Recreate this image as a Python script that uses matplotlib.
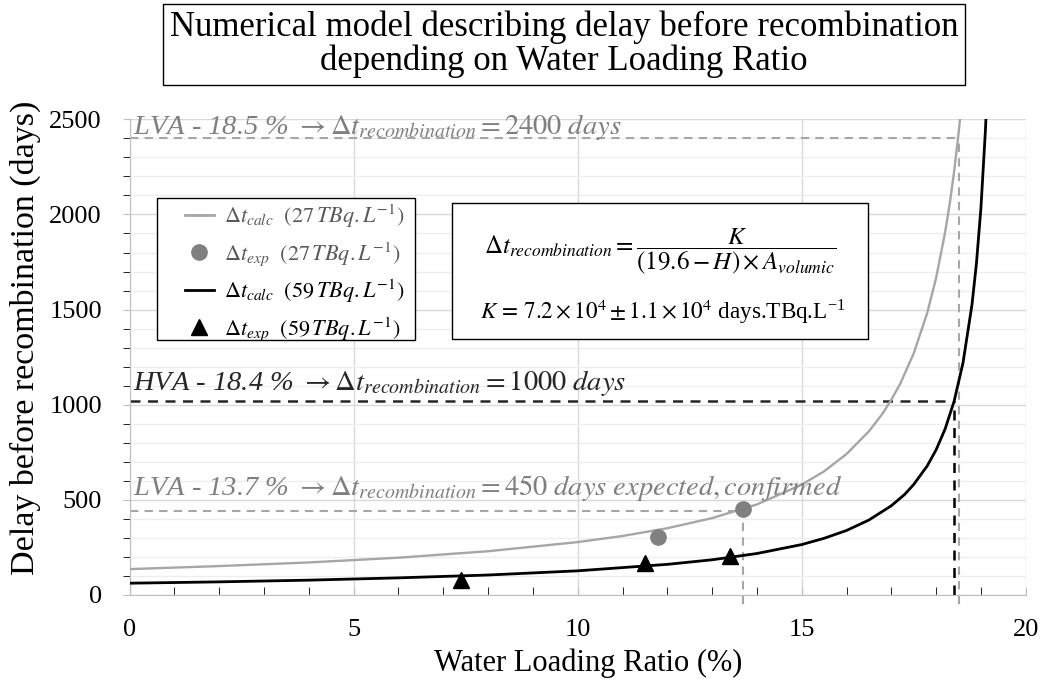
import matplotlib
matplotlib.use("Agg")
import matplotlib.pyplot as plt
from matplotlib.lines import Line2D
from matplotlib.patches import Rectangle
from matplotlib.ticker import MultipleLocator

plt.rcParams['font.family'] = ['Liberation Serif', 'DejaVu Serif']
plt.rcParams['mathtext.fontset'] = 'stix'

# ---- data ----
h_calc_27 = [0, 2, 4, 6, 8, 10, 11, 12, 13, 14, 15, 15.5, 16, 16.5, 16.8, 17,
             17.2, 17.5, 17.8, 18.0, 18.2, 18.3, 18.4, 18.5, 18.55]
t_calc_27 = [136, 152, 171, 196, 230, 278, 310, 351, 404, 476, 580, 650, 741, 860,
             952, 1026, 1111, 1270, 1481, 1667, 1905, 2051, 2222, 2424, 2540]

h_calc_59 = [0, 2, 4, 6, 8, 10, 12, 13, 14, 15, 15.5, 16, 16.5, 17, 17.3, 17.5,
             17.8, 18, 18.2, 18.4, 18.6, 18.8, 18.9, 19.0, 19.1, 19.13]
t_calc_59 = [62, 69, 78, 90, 105, 127, 161, 185, 218, 265, 298, 339, 394, 469,
             529, 581, 678, 763, 872, 1017, 1220, 1525, 1743, 2034, 2441, 2596]

h_exp_27 = [11.8, 13.7]
t_exp_27 = [303, 452]

h_exp_59 = [7.4, 11.5, 13.4]
t_exp_59 = [79, 170, 206]

ref_lva_high = (18.5, 2400)
ref_hva = (18.4, 1020)
ref_lva_low = (13.7, 443)

x_ticks = [0, 5, 10, 15, 20]
y_ticks = [0, 500, 1000, 1500, 2000, 2500]

GREY = '#a6a6a6'
GREY_TXT = '#7f7f7f'
DARK = '#262626'
DASH = (0, (4, 3))

fig = plt.figure(figsize=(10.44, 6.81), dpi=100)
ax = fig.add_axes([0.1242, 0.1263, 0.8583, 0.6985])

ax.set_xlim(0, 20)
ax.set_ylim(0, 2500)
ax.set_xticks(x_ticks)
ax.set_yticks(y_ticks)
ax.xaxis.set_minor_locator(MultipleLocator(1))
ax.yaxis.set_minor_locator(MultipleLocator(100))
ax.grid(which='major', color='#d9d9d9', lw=1.0, zorder=0)
ax.grid(which='minor', axis='y', color='#eeeeee', lw=1.0, zorder=0)
ax.set_axisbelow(True)
for s in ['top', 'right']:
    ax.spines[s].set_visible(False)
for s in ['left', 'bottom']:
    ax.spines[s].set_color('#bfbfbf')
ax.tick_params(axis='both', labelsize=19, colors='#bfbfbf', labelcolor='black')
ax.tick_params(axis='x', which='both', direction='in', length=6, pad=17)
ax.tick_params(axis='y', which='both', direction='out', length=5, pad=15)

# reference dashed lines
ax.plot([0, ref_lva_high[0]], [ref_lva_high[1]] * 2, ls=DASH, color=GREY, lw=1.5, zorder=2)
ax.plot([ref_lva_high[0]] * 2, [-45, ref_lva_high[1]], ls=DASH, color=GREY, lw=1.5,
        zorder=2, clip_on=False)
ax.plot([0, ref_hva[0]], [ref_hva[1]] * 2, ls=DASH, color=DARK, lw=1.8, zorder=2)
ax.plot([ref_hva[0]] * 2, [0, ref_hva[1]], ls=DASH, color='black', lw=1.8, zorder=2)
ax.plot([0, ref_lva_low[0]], [ref_lva_low[1]] * 2, ls=DASH, color=GREY, lw=1.5, zorder=2)
ax.plot([ref_lva_low[0]] * 2, [-45, ref_lva_low[1]], ls=DASH, color=GREY, lw=1.5,
        zorder=2, clip_on=False)

# curves and points
ax.plot(h_calc_27, t_calc_27, color=GREY, lw=1.7, zorder=3)
ax.plot(h_calc_59, t_calc_59, color='black', lw=2.0, zorder=3)
ax.plot(h_exp_27, t_exp_27, 'o', color='#808080', ms=11, zorder=4, ls='none')
ax.plot(h_exp_59, t_exp_59, '^', color='black', ms=11, zorder=4, ls='none')

# annotations
ANN = 20.5
ax.text(0.08, ref_lva_high[1] + 25, r'LVA - 18.5 % $\rightarrow\Delta t_{recombination}$$= 2400\ days$',
        fontsize=ANN, style='italic', color=GREY_TXT, va='baseline', ha='left', zorder=5)
ax.text(0.08, ref_hva[1] + 55, r'HVA - 18.4 % $\rightarrow\Delta t_{recombination}$$= 1000\ days$',
        fontsize=ANN, style='italic', color=DARK, va='baseline', ha='left', zorder=5)
ax.text(0.08, ref_lva_low[1] + 85,
        r'LVA - 13.7 % $\rightarrow\Delta t_{recombination}$$= 450\ days\ expected, confirmed$',
        fontsize=ANN, style='italic', color=GREY_TXT, va='baseline', ha='left', zorder=5)

# legend (frame drawn separately)
ax.add_patch(Rectangle((0.0305, 0.5357), 0.2879, 0.2983, transform=ax.transAxes,
                       facecolor='white', edgecolor='black', lw=1.0, zorder=6))
handles = [
    Line2D([], [], color=GREY, lw=2),
    Line2D([], [], marker='o', color='#808080', ls='none', ms=11),
    Line2D([], [], color='black', lw=2),
    Line2D([], [], marker='^', color='black', ls='none', ms=11),
]
labels = [
    r'$\Delta t_{calc}\ \ (27\,TBq.L^{-1})$',
    r'$\Delta t_{exp}\ \ (27\,TBq.L^{-1})$',
    r'$\Delta t_{calc}\ \ (59\,TBq.L^{-1})$',
    r'$\Delta t_{exp}\ \ (59\,TBq.L^{-1})$',
]
leg = ax.legend(handles, labels, loc='upper left', bbox_to_anchor=(0.0617, 0.826),
                fontsize=16, frameon=False, borderpad=0, borderaxespad=0,
                labelspacing=0.45, handlelength=1.3, handletextpad=0.45)
leg.set_zorder(7)
for t, c in zip(leg.get_texts(), ['#595959', '#595959', 'black', 'black']):
    t.set_color(c)

# equation box
ax.add_patch(Rectangle((0.3597, 0.538), 0.464, 0.2855, transform=ax.transAxes,
                       facecolor='white', edgecolor='black', lw=1.0, zorder=6))
ax.text(0.592, 0.722, r'$\Delta t_{recombination}$$= \dfrac{K}{(19.6-H)\times A_{volumic}}$',
        transform=ax.transAxes, fontsize=18, ha='center', va='center', zorder=7)
ax.text(0.595, 0.596, r'$K\,=\,7.2\times10^{4}\pm1.1\times10^{4}$ days.TBq.L$^{\mathregular{-1}}$',
        transform=ax.transAxes, fontsize=16.7, ha='center', va='center', zorder=7)

ax.set_xlabel('Water Loading Ratio (%)', fontsize=22, labelpad=4)
ax.xaxis.set_label_coords(0.512, -0.113)
ax.set_ylabel('Delay before recombination (days)', fontsize=24.5, labelpad=6)
ax.yaxis.set_label_coords(-0.099, 0.54)

fig.text(0.540, 0.935, 'Numerical model describing delay before recombination\ndepending on Water Loading Ratio',
         fontsize=25, ha='center', va='center', linespacing=1.0,
         bbox=dict(boxstyle='square,pad=0.2', facecolor='white', edgecolor='black', lw=1.0))

fig.savefig('out.png', dpi=100)
